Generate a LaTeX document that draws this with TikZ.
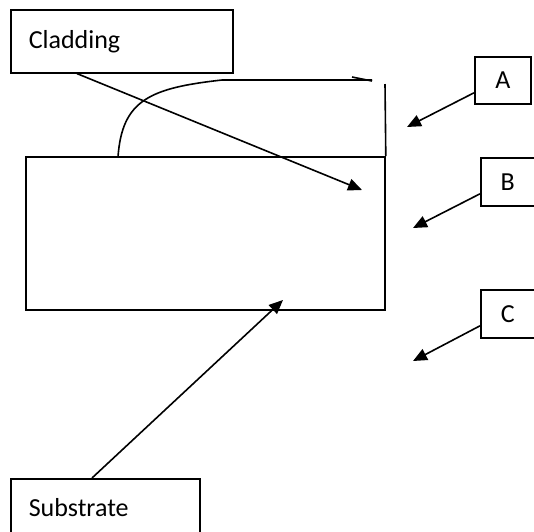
\documentclass[tikz,border=0pt]{standalone}
\usepackage{fontspec}
\setmainfont{Carlito}
\usepackage{tikz}
\usetikzlibrary{arrows.meta, positioning, calc}

\begin{document}
\begin{tikzpicture}[
  x=1pt, y=-1pt,
  line width=1.6pt,
  tag/.style={rectangle, draw=black, anchor=north west, inner xsep=18pt, inner ysep=0pt, align=left, font=\fontsize{26}{30}\selectfont},
  letter/.style={rectangle, draw=black, anchor=north west, inner sep=0pt, align=center, font=\fontsize{26}{30}\selectfont},
  layer/.style={rectangle, draw=black, inner sep=0pt},
  arrow/.style={-{Triangle[length=14pt,width=12pt]}}
]
\clip (0,0) rectangle (534,531);

% substrate block and the cladding drawn over its top
\node (block) [layer, minimum width=359pt, minimum height=153pt] at (205.5,233.5) {};
\draw (118,157) .. controls (122,100) and (150,88) .. (222,80) -- (372,80);
\draw (352,77) -- (372,81);
\draw (385,84) -- (block.north east);

% labels
\node (clad) [tag, text width=186pt, minimum height=63pt] at (10,9) {Cladding};
\node (subs) [tag, text width=153pt, minimum height=58pt] at (10,478) {Substrate};
\node (A) [letter, minimum width=56pt, minimum height=47pt] at (474,56) {A};
\node (B) [letter, minimum width=54pt, minimum height=48pt] at (480,157) {B};
\node (C) [letter, minimum width=54pt, minimum height=48pt] at (480,289) {C};

% arrow ends
\coordinate (cladTip) at (362,190);
\coordinate (subsTip) at (283,300);
\coordinate (aTip) at (407,127);
\coordinate (bTip) at (413,228);
\coordinate (cTip) at (413,361);

\draw [arrow] ([xshift=67pt]clad.south west) -- (cladTip);
\draw [arrow] ([xshift=82pt]subs.north west) -- (subsTip);
\draw [arrow] ([yshift=-12.5pt]A.west) -- (aTip);
\draw [arrow] ([yshift=-12pt]B.west) -- (bTip);
\draw [arrow] ([yshift=-12pt]C.west) -- (cTip);

\end{tikzpicture}
\end{document}
